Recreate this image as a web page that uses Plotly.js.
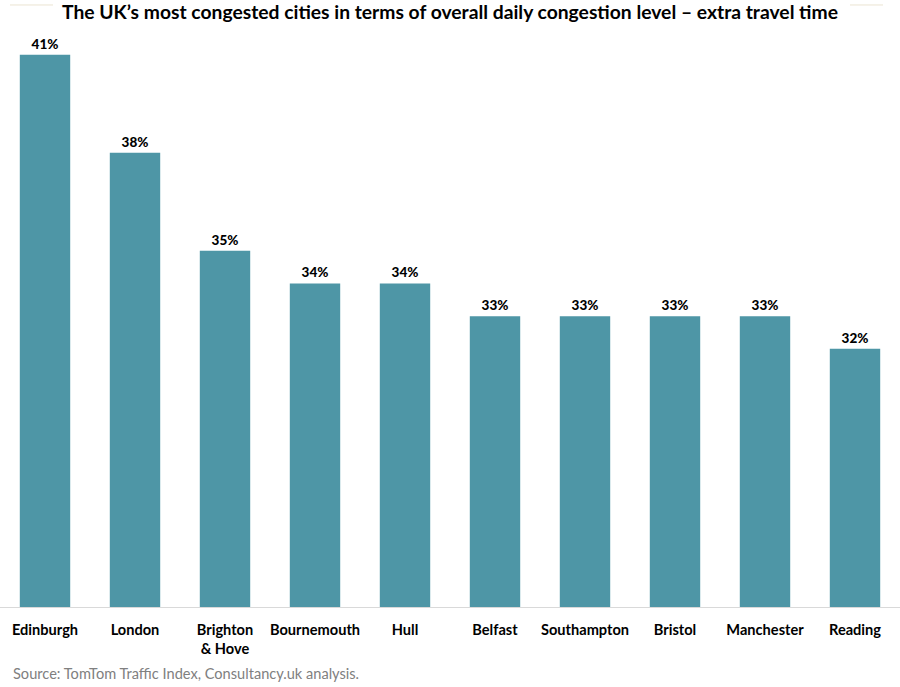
<!DOCTYPE html>
<html>
<head>
<meta charset="utf-8">
<script src="https://cdn.plot.ly/plotly-3.0.1.min.js"></script>
<style>html,body{margin:0;padding:0;background:#fff;}#chart{width:900px;height:687px;}</style>
</head>
<body>
<div id="chart"></div>
<script>
const cities = ["Edinburgh", "London", "Brighton<br>& Hove", "Bournemouth", "Hull", "Belfast", "Southampton", "Bristol", "Manchester", "Reading"];
const congestion = [41, 38, 35, 34, 34, 33, 33, 33, 33, 32];
const labels = congestion.map(v => v + "%");

const trace = {
  type: "bar",
  x: cities,
  y: congestion,
  text: labels,
  textposition: "outside",
  textfont: {family: "Lato, 'Open Sans', sans-serif", size: 13.5, color: "#000", weight: 900},
  marker: {color: "#4E96A6"},
  cliponaxis: false,
  hoverinfo: "skip"
};

const layout = {
  width: 900, height: 687,
  margin: {l: 0, r: 0, t: 22, b: 80},
  paper_bgcolor: "#fff", plot_bgcolor: "#fff",
  bargap: 0.44,
  showlegend: false,
  title: {
    text: "<b>The UK’s most congested cities in terms of overall daily congestion level – extra travel time</b>",
    font: {family: "Lato, 'Open Sans', sans-serif", size: 19.3, color: "#000"},
    x: 0.5, xanchor: "center", y: 0.982, yanchor: "middle"
  },
  xaxis: {
    showline: true, linecolor: "#d9d9d9", linewidth: 1,
    ticks: "outside", ticklen: 9, tickcolor: "rgba(0,0,0,0)",
    tickfont: {family: "Lato, 'Open Sans', sans-serif", size: 14.6, color: "#000", weight: "bold"},
    showgrid: false, zeroline: false, fixedrange: true
  },
  yaxis: {
    range: [24.1, 42], visible: false, showgrid: false, zeroline: false, fixedrange: true
  },
  shapes: [
    {type: "line", xref: "paper", yref: "paper", x0: 10/900, x1: 53/900, y0: 1.0291, y1: 1.0291, line: {color: "#ebe4d2", width: 1}},
    {type: "line", xref: "paper", yref: "paper", x0: 850/900, x1: 883/900, y0: 1.0291, y1: 1.0291, line: {color: "#ebe4d2", width: 1}}
  ],
  annotations: [{
    text: "Source: TomTom Traffic Index, Consultancy.uk analysis.",
    xref: "paper", yref: "paper", x: 11/900, y: -66/585, xanchor: "left", yanchor: "middle",
    showarrow: false,
    font: {family: "Lato, 'Open Sans', sans-serif", size: 14.6, color: "#808080"}
  }]
};

Plotly.newPlot("chart", [trace], layout, {displayModeBar: false, staticPlot: true});
</script>
</body>
</html>
